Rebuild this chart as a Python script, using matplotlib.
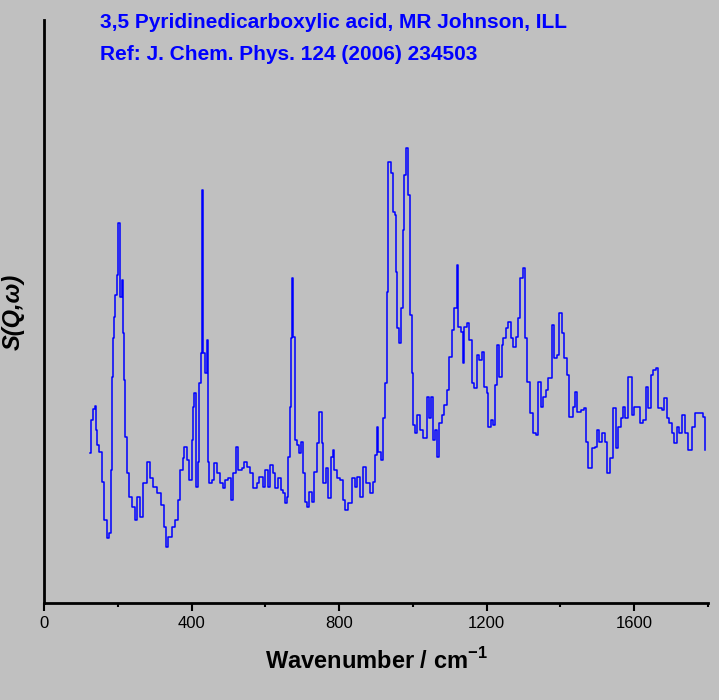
import matplotlib
matplotlib.use("Agg")
import matplotlib.pyplot as plt
from matplotlib.ticker import MultipleLocator

plt.rcParams['font.family'] = ['Liberation Sans', 'DejaVu Sans']
plt.rcParams['mathtext.fontset'] = 'custom'
plt.rcParams['mathtext.rm'] = 'Liberation Sans'
plt.rcParams['mathtext.bf'] = 'Liberation Sans:bold'

# INS spectrum (wavenumber / cm-1, intensity arb. units)
wavenumber = [125, 127, 133, 138, 141, 144, 149, 157, 163, 171, 176, 182, 184, 187, 189, 193, 198, 201, 206, 212,
              214, 217, 220, 225, 231, 239, 247, 252, 260, 268, 279, 287, 296, 306, 317, 325, 331, 336, 347, 355,
              363, 369, 377, 380, 388, 393, 401, 404, 407, 412, 418, 420, 426, 428, 431, 437, 442, 445, 447, 456,
              461, 469, 477, 485, 491, 499, 507, 513, 521, 526, 537, 542, 551, 559, 567, 578, 583, 594, 599, 607,
              613, 621, 626, 635, 643, 648, 654, 659, 662, 667, 670, 673, 675, 681, 686, 692, 697, 702, 708, 713,
              719, 727, 732, 740, 746, 754, 757, 765, 770, 778, 784, 786, 795, 803, 811, 816, 824, 835, 843, 849,
              857, 865, 873, 884, 892, 898, 903, 906, 914, 919, 925, 930, 933, 941, 946, 952, 955, 957, 963, 968,
              974, 976, 982, 987, 993, 998, 1001, 1006, 1012, 1020, 1028, 1039, 1044, 1050, 1055, 1060, 1066, 1071, 1079, 1085,
              1093, 1098, 1106, 1112, 1120, 1123, 1131, 1136, 1139, 1147, 1153, 1161, 1166, 1174, 1180, 1188, 1193, 1201, 1204, 1212,
              1218, 1223, 1229, 1234, 1242, 1245, 1253, 1258, 1266, 1272, 1280, 1285, 1291, 1299, 1304, 1310, 1318, 1326, 1334, 1340,
              1348, 1353, 1361, 1367, 1378, 1383, 1391, 1397, 1405, 1410, 1418, 1424, 1435, 1440, 1446, 1456, 1464, 1470, 1475, 1486,
              1494, 1500, 1505, 1513, 1521, 1527, 1535, 1543, 1551, 1557, 1565, 1570, 1576, 1584, 1595, 1600, 1608, 1616, 1624, 1633,
              1638, 1646, 1652, 1660, 1665, 1676, 1681, 1690, 1695, 1703, 1709, 1717, 1722, 1730, 1738, 1747, 1757, 1766, 1776, 1787,
              1793]
intensity = [150, 183, 194, 197, 173, 158, 151, 121, 83, 65, 70, 133, 226, 265, 286, 308, 328, 380, 306, 323,
             270, 223, 166, 130, 106, 96, 83, 106, 86, 120, 141, 125, 116, 110, 98, 76, 56, 66, 76, 83,
             103, 133, 145, 156, 143, 123, 163, 196, 210, 116, 141, 220, 250, 413, 250, 230, 263, 141, 120, 123,
             140, 130, 120, 115, 123, 125, 103, 130, 156, 133, 135, 141, 136, 130, 115, 120, 126, 116, 133, 116,
             138, 130, 115, 125, 113, 110, 100, 106, 146, 196, 265, 325, 266, 163, 158, 150, 161, 130, 101, 96,
             111, 101, 131, 160, 191, 160, 120, 135, 105, 146, 153, 133, 125, 123, 103, 93, 100, 125, 116, 126,
             106, 136, 120, 110, 121, 148, 176, 151, 143, 185, 220, 311, 441, 430, 391, 388, 331, 275, 260, 295,
             373, 428, 455, 408, 288, 230, 178, 170, 188, 173, 165, 206, 185, 206, 163, 173, 146, 180, 188, 198,
             213, 246, 273, 295, 338, 276, 271, 240, 276, 280, 263, 220, 215, 248, 243, 251, 216, 210, 176, 183,
             178, 218, 258, 226, 258, 265, 275, 281, 265, 256, 266, 285, 325, 335, 265, 221, 190, 170, 168, 221,
             196, 206, 213, 225, 278, 245, 248, 290, 270, 245, 228, 186, 196, 211, 191, 193, 195, 161, 135, 155,
             156, 173, 161, 170, 161, 130, 145, 195, 155, 176, 185, 196, 185, 226, 188, 196, 196, 180, 183, 216,
             195, 228, 233, 235, 195, 193, 205, 185, 180, 170, 160, 176, 170, 188, 170, 153, 176, 190, 190, 186,
             153]

title_lines = ["3,5 Pyridinedicarboxylic acid, MR Johnson, ILL",
               "Ref: J. Chem. Phys. 124 (2006) 234503"]

bg = "#c0c0c0"
fig = plt.figure(figsize=(7.19, 7.0), dpi=100, facecolor=bg)
ax = fig.add_axes([44 / 719, 97 / 700, 664 / 719, 583 / 700])
ax.set_facecolor(bg)

ax.plot(wavenumber, intensity, drawstyle="steps-post", color="#0000ff", lw=1.1)

ax.set_xlim(0, 1800)
ax.set_ylim(0, 583)
ax.xaxis.set_major_locator(MultipleLocator(400))
ax.xaxis.set_minor_locator(MultipleLocator(200))
ax.set_yticks([])
for side in ("top", "right"):
    ax.spines[side].set_visible(False)
for side in ("left", "bottom"):
    ax.spines[side].set_linewidth(2)
ax.tick_params(axis="x", which="major", direction="out", length=6, width=1.5, labelsize=12)
ax.tick_params(axis="x", which="minor", direction="out", length=3, width=1.5)

ax.set_xlabel("Wavenumber / cm$^{\\mathbf{-1}}$", fontsize=17, fontweight="bold", labelpad=12)
ax.set_ylabel("S(Q,\u03c9)", fontsize=17, fontweight="bold", fontstyle="italic", labelpad=14)

fig.text(100 / 719, 1 - 22 / 700, title_lines[0], color="#0000ff", fontsize=15,
         fontweight="bold", va="center", ha="left")
fig.text(100 / 719, 1 - 55 / 700, title_lines[1], color="#0000ff", fontsize=15,
         fontweight="bold", va="center", ha="left")

fig.savefig("out.png", dpi=100, facecolor=bg)
